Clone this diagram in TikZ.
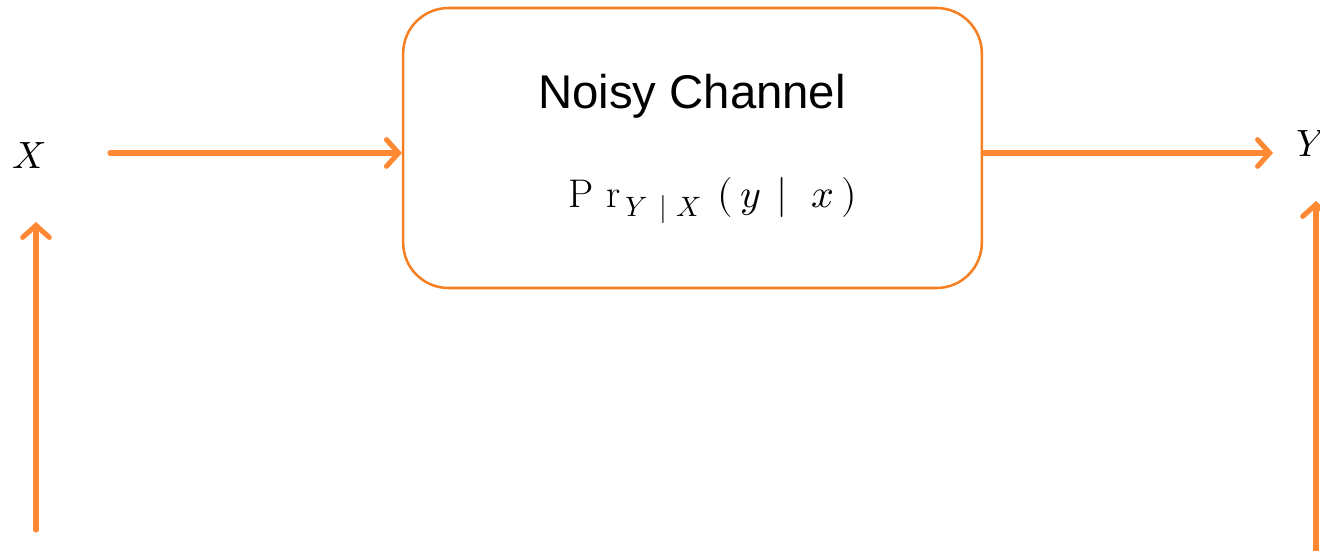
\documentclass[tikz,border=0pt]{standalone}
\usepackage{fontspec}
\usepackage{unicode-math}
\setmathfont{Latin Modern Math}
\newfontfamily\arial{Liberation Sans}
\usetikzlibrary{arrows.meta}
\definecolor{arr}{RGB}{255,136,51}
\definecolor{boxc}{RGB}{245,128,36}
\begin{document}
\begin{tikzpicture}[x=0.75pt,y=-0.75pt,
  flow/.style={draw=arr,line width=3.8pt,line cap=round,-{Straight Barb[length=9pt,width=20pt,line cap=round]}},
  chan/.style={draw=boxc,line width=1.9pt,rounded corners=34pt,minimum width=434pt,minimum height=210pt,inner sep=0pt},
  var/.style={inner sep=0pt,font=\fontsize{28.5}{34}\selectfont}]
\useasboundingbox (0,0) rectangle (1320,550);
\node[chan] (box) at (692.5,148) {};
\node[inner sep=0pt,anchor=base,font=\arial\fontsize{35.5}{40}\selectfont] (title) at (692,108) {Noisy Channel};
\node[inner sep=0pt,anchor=base west,font=\fontsize{30}{34}\selectfont] (law) at (568,207) {$\mathrm{P}\mkern6mu\mathrm{r}\mkern2mu_{Y\mkern8mu|\mkern6mu X}\mkern7mu(\mkern3mu y\mkern7mu|\mkern11mu x\mkern3mu)$};
\node[var] (X) at (29,156) {$X$};
\node[var,anchor=west] (Y) at (1296,144) {$Y$};
\coordinate (xin) at (110,153);
\coordinate (yout) at (1273,153);
\coordinate (lb) at (36,530);
\coordinate (lt) at (36,222);
\coordinate (rb) at (1316,570);
\coordinate (rt) at (1316,201);
\draw[flow] (xin) -- (xin -| box.west);
\draw[flow] (yout -| box.east) -- (yout);
\draw[flow] (lb) -- (lt);
\draw[flow] (rb) -- (rt);
\end{tikzpicture}
\end{document}
